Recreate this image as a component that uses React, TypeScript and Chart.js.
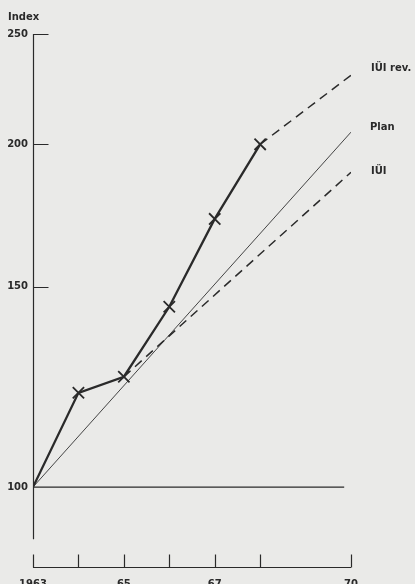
import { useEffect, useRef } from 'react';
import { Chart, registerables } from 'chart.js';

Chart.register(...registerables);

// ---- data ----
const actualYears = [1963, 1964, 1965, 1966, 1967, 1968];
const actualIndex = [100, 121, 125, 144, 172, 200];
const revYears = [1968, 1970];
const revIndex = [200, 230];
const iuiYears = [1965, 1970];
const iuiIndex = [125, 189];
const planYears = [1963, 1970];
const planIndex = [100, 205];
const baseYears = [1963, 1969.85];
const baseIndex = [100, 100];
const yTickValues = [100, 150, 200, 250];
const yAxisRange = [90, 250];
const xTickYears = [1963, 1964, 1965, 1966, 1967, 1968, 1970];
const xTickLabels = ['1963', '', '65', '', '67', '', '70'];
const seriesNames = ['IÜI', 'IÜI rev.', 'IÜI', 'Plan', ''];
const endLabelled = [false, true, true, true, false];
const yTitle = 'Index';

const BG = '#eaeae8';
const INK = '#2a2a2a';
const FONT = '"DejaVu Sans", "Liberation Sans", sans-serif';

const pts = (xs: number[], ys: number[]) => xs.map((x, i) => ({ x, y: ys[i] }));

const labelOffsets: Record<string, [number, number]> = {
  'IÜI rev.': [20, -7],
  Plan: [19, -5],
  'IÜI': [20, -1],
};

const decorPlugin = {
  id: 'decor',
  beforeDraw(chart: any) {
    const { ctx, width, height } = chart;
    ctx.save();
    ctx.fillStyle = BG;
    ctx.fillRect(0, 0, width, height);
    ctx.restore();
  },
  afterDatasetsDraw(chart: any) {
    const { ctx, chartArea, scales } = chart;
    const x = scales.x;
    const y = scales.y;
    const left = Math.round(chartArea.left) + 0.5;
    ctx.save();
    ctx.strokeStyle = INK;
    ctx.lineWidth = 1.2;
    // y axis line
    ctx.beginPath();
    ctx.moveTo(left, y.getPixelForValue(yAxisRange[0]));
    ctx.lineTo(left, y.getPixelForValue(yAxisRange[1]));
    // y tick marks (inside)
    yTickValues.forEach((v) => {
      if (v === 100) return;
      const py = Math.round(y.getPixelForValue(v)) + 0.5;
      ctx.moveTo(left, py);
      ctx.lineTo(left + 15, py);
    });
    ctx.stroke();

    // x axis bracket
    const by = Math.round(chartArea.bottom) - 0.5;
    ctx.beginPath();
    ctx.moveTo(x.getPixelForValue(xTickYears[0]), by);
    ctx.lineTo(x.getPixelForValue(xTickYears[xTickYears.length - 1]), by);
    xTickYears.forEach((v) => {
      const px = Math.round(x.getPixelForValue(v)) + 0.5;
      ctx.moveTo(px, by);
      ctx.lineTo(px, by - 13);
    });
    ctx.stroke();

    // title
    ctx.fillStyle = INK;
    ctx.font = `bold 10px ${FONT}`;
    ctx.textAlign = 'left';
    ctx.textBaseline = 'middle';
    ctx.fillText(yTitle, 8, 17);

    // end labels
    chart.data.datasets.forEach((ds: any, i: number) => {
      if (!endLabelled[i]) return;
      const meta = chart.getDatasetMeta(i);
      const last = meta.data[meta.data.length - 1];
      const off = labelOffsets[ds.label] || [20, 0];
      ctx.fillText(ds.label, last.x + off[0], last.y + off[1]);
    });
    ctx.restore();
  },
};

export default function App() {
  const ref = useRef<HTMLCanvasElement | null>(null);

  useEffect(() => {
    if (!ref.current) return;
    const chart = new Chart(ref.current, {
      type: 'line',
      data: {
        datasets: [
          {
            label: seriesNames[0],
            data: pts(actualYears, actualIndex),
            borderColor: INK,
            borderWidth: 2.3,
            pointStyle: 'crossRot',
            pointRadius: (c: any) => (c.dataIndex === 0 ? 0 : 8),
            pointBorderWidth: 1.8,
            pointBorderColor: INK,
            pointBackgroundColor: INK,
            tension: 0,
          },
          {
            label: seriesNames[1],
            data: pts(revYears, revIndex),
            borderColor: INK,
            borderWidth: 1.5,
            borderDash: [9, 6],
            pointRadius: 0,
          },
          {
            label: seriesNames[2],
            data: pts(iuiYears, iuiIndex),
            borderColor: INK,
            borderWidth: 1.5,
            borderDash: [9, 6],
            pointRadius: 0,
          },
          {
            label: seriesNames[3],
            data: pts(planYears, planIndex),
            borderColor: '#444',
            borderWidth: 1,
            pointRadius: 0,
          },
          {
            label: seriesNames[4],
            data: pts(baseYears, baseIndex),
            borderColor: INK,
            borderWidth: 1.3,
            pointRadius: 0,
          },
        ],
      } as any,
      options: {
        animation: false,
        responsive: false,
        maintainAspectRatio: false,
        events: [],
        layout: { padding: { left: 0, right: 64, top: 34, bottom: 0 } },
        plugins: { legend: { display: false }, tooltip: { enabled: false } },
        scales: {
          x: {
            type: 'linear',
            bounds: 'data',
            min: 1963,
            max: 1970,
            position: 'bottom',
            grid: { display: false },
            border: { display: false },
            ticks: {
              autoSkip: false,
              maxRotation: 0,
              padding: 2,
              color: INK,
              font: { family: FONT, size: 10, weight: 'bold' },
              callback: (v: any) => {
                const i = xTickYears.indexOf(Number(v));
                return i >= 0 ? xTickLabels[i] : '';
              },
            },
            afterBuildTicks: (s: any) => {
              s.ticks = xTickYears.map((v) => ({ value: v }));
            },
            afterFit: (s: any) => {
              s.height = 16;
            },
          },
          y: {
            type: 'logarithmic',
            bounds: 'data',
            min: 84.9,
            max: 250,
            position: 'left',
            grid: { display: false, drawTicks: false },
            border: { display: false },
            ticks: {
              padding: 5,
              color: INK,
              font: { family: FONT, size: 10, weight: 'bold' },
              callback: (v: any) => String(v),
            },
            afterBuildTicks: (s: any) => {
              s.ticks = yTickValues.map((v) => ({ value: v }));
            },
            afterFit: (s: any) => {
              s.width = 33;
            },
          },
        },
      } as any,
      plugins: [decorPlugin],
    });
    return () => chart.destroy();
  }, []);

  return (
    <div
      style={{
        position: 'fixed',
        left: 0,
        top: 0,
        width: 415,
        height: 584,
        background: BG,
        overflow: 'hidden',
      }}
    >
      <canvas ref={ref} width={415} height={584} style={{ width: 415, height: 584, display: 'block' }} />
    </div>
  );
}
